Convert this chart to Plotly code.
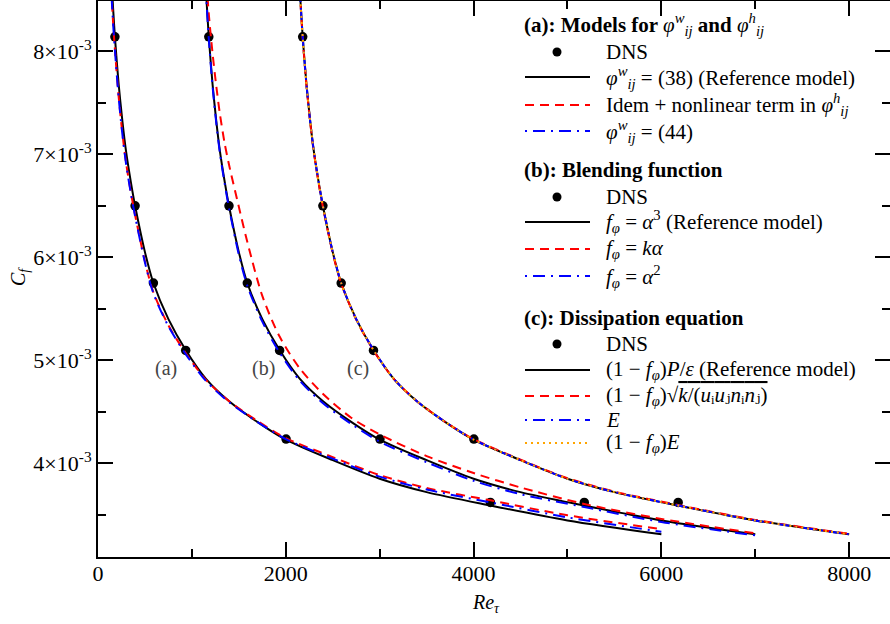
import numpy as np
import plotly.graph_objects as go

FONT = "'Liberation Serif', 'Times New Roman', 'DejaVu Serif', serif"

# ---------------- data (Cf values in units of 1e-3) ----------------
RE_DNS = [180, 395, 590, 934, 2003, 4179]
CF_DNS = [8.14, 6.50, 5.75, 5.095, 4.235, 3.62]

RE = [140, 160, 180, 220, 260, 300, 350, 395, 500, 590, 750, 934,
      1150, 1400, 1700, 2000, 2500, 3000, 3500, 4179, 5000, 6000]

# reference model (solid black, same in the three groups)
CF_REF = [8.75, 8.43, 8.14, 7.68, 7.32, 7.02, 6.73, 6.50, 6.05, 5.75, 5.40, 5.10,
          4.82, 4.60, 4.40, 4.23, 4.03, 3.85, 3.72, 3.59, 3.445, 3.31]
# (a) models for phi_w / phi_h
CF_A_NONLIN = [8.62, 8.29, 8.02, 7.56, 7.20, 6.91, 6.63, 6.41, 5.96, 5.66, 5.34, 5.07,
               4.81, 4.60, 4.41, 4.245, 4.06, 3.885, 3.76, 3.64, 3.495, 3.36]
CF_A_EQ44 = [8.60, 8.28, 8.01, 7.55, 7.19, 6.90, 6.62, 6.40, 5.95, 5.65, 5.33, 5.06,
             4.80, 4.59, 4.40, 4.235, 4.045, 3.87, 3.745, 3.62, 3.475, 3.335]
# (b) blending function
CF_B_KALPHA = [8.96, 8.62, 8.36, 7.98, 7.66, 7.38, 7.10, 6.90, 6.49, 6.15, 5.625, 5.23,
               4.92, 4.67, 4.44, 4.28, 4.07, 3.905, 3.765, 3.605, 3.46, 3.32]
CF_B_ALPHA2 = [8.73, 8.41, 8.12, 7.66, 7.30, 7.00, 6.71, 6.48, 6.025, 5.725, 5.375, 5.075,
               4.80, 4.58, 4.38, 4.21, 4.01, 3.83, 3.70, 3.575, 3.43, 3.30]
# (c) dissipation equation
CF_C_SQRT = [8.74, 8.42, 8.13, 7.67, 7.31, 7.01, 6.72, 6.49, 6.04, 5.745, 5.395, 5.095,
             4.82, 4.60, 4.40, 4.235, 4.035, 3.855, 3.725, 3.595, 3.45, 3.315]
CF_C_E = [8.75, 8.43, 8.14, 7.68, 7.32, 7.02, 6.73, 6.50, 6.05, 5.75, 5.40, 5.10,
          4.82, 4.60, 4.40, 4.23, 4.03, 3.85, 3.72, 3.59, 3.445, 3.31]
CF_C_1MFE = [8.75, 8.43, 8.14, 7.68, 7.32, 7.02, 6.73, 6.50, 6.05, 5.75, 5.40, 5.10,
             4.82, 4.60, 4.40, 4.23, 4.03, 3.85, 3.72, 3.59, 3.445, 3.31]

GROUP_SHIFT = {"a": 0, "b": 1000, "c": 2000}   # curves of each group are offset in Re_tau

X_TICKS = [0, 2000, 4000, 6000, 8000]
Y_TICKS = [4e-3, 5e-3, 6e-3, 7e-3, 8e-3]
Y_TICKTEXT = ["4×10<sup>-3</sup>", "5×10<sup>-3</sup>", "6×10<sup>-3</sup>",
              "7×10<sup>-3</sup>", "8×10<sup>-3</sup>"]

SCALE = 1e-3

# ---------------- styles ----------------
RED_DASH = "9px,6px"
BLUE_DASHDOT = "2px,6px,12px,6px"
ORANGE_DOT = "2px,4px"
STYLES = {
    "ref": dict(color="black", width=2, dash="solid"),
    "red": dict(color="#ff0000", width=2, dash=RED_DASH),
    "blue": dict(color="#0000ff", width=2, dash=BLUE_DASHDOT),
    "orange": dict(color="#ffa500", width=2, dash=ORANGE_DOT),
}

fig = go.Figure()


def add_dns(shift):
    fig.add_trace(go.Scatter(
        x=np.array(RE_DNS) + shift, y=np.array(CF_DNS) * SCALE, mode="markers",
        marker=dict(color="black", size=9.5), showlegend=False, hoverinfo="skip"))


def add_curve(cf, shift, style):
    fig.add_trace(go.Scatter(
        x=np.array(RE) + shift, y=np.array(cf) * SCALE, mode="lines",
        line=dict(shape="spline", smoothing=0.8, **STYLES[style]),
        showlegend=False, hoverinfo="skip"))


s = GROUP_SHIFT["a"]
add_dns(s)
add_curve(CF_REF, s, "ref")
add_curve(CF_A_NONLIN, s, "red")
add_curve(CF_A_EQ44, s, "blue")

s = GROUP_SHIFT["b"]
add_dns(s)
add_curve(CF_REF, s, "ref")
add_curve(CF_B_KALPHA, s, "red")
add_curve(CF_B_ALPHA2, s, "blue")

s = GROUP_SHIFT["c"]
add_dns(s)
add_curve(CF_REF, s, "ref")
add_curve(CF_C_SQRT, s, "red")
add_curve(CF_C_E, s, "blue")
add_curve(CF_C_1MFE, s, "orange")

# dummy trace so that the right-hand (tick-only) axis is drawn
fig.add_trace(go.Scatter(x=[None], y=[None], yaxis="y2", showlegend=False, hoverinfo="skip"))

# ---------------- layout ----------------
W, H = 890, 624
ML, MR, MT, MB = 98, 0, 1, 67
PW, PH = W - ML - MR, H - MT - MB
X_RANGE = [0, 8435]
Y_RANGE = [3.09e-3, 8.488e-3]


def px(xp):
    return (xp - ML) / PW


def py(yp):
    return 1 - (yp - MT) / PH


tickfont = dict(family=FONT, size=22, color="black")
yaxis_common = dict(range=Y_RANGE, tickmode="array", tickvals=Y_TICKS,
                    ticks="inside", ticklen=15, tickwidth=1.5, tickcolor="black",
                    minor=dict(ticks="inside", ticklen=8, tickwidth=1.5, tickcolor="black",
                               dtick=5e-4, tick0=0),
                    showgrid=False, zeroline=False, automargin=False)

fig.update_layout(
    width=W, height=H, margin=dict(l=ML, r=MR, t=MT, b=MB),
    paper_bgcolor="white", plot_bgcolor="white", showlegend=False,
    font=dict(family=FONT, size=21, color="black"),
    xaxis=dict(range=X_RANGE, tickmode="array", tickvals=X_TICKS,
               ticks="inside", ticklen=15, tickwidth=1.5, tickcolor="black",
               minor=dict(ticks="inside", ticklen=8, tickwidth=1.5, tickcolor="black",
                          dtick=1000, tick0=0),
               showline=True, linewidth=2, linecolor="black", mirror="ticks",
               showgrid=False, zeroline=False, tickfont=tickfont, automargin=False,
               ticklabelstandoff=-4),
    yaxis=dict(ticktext=Y_TICKTEXT, showline=True, linewidth=2, linecolor="black",
               mirror=False, tickfont=tickfont, **yaxis_common),
    yaxis2=dict(overlaying="y", side="right", showline=False, showticklabels=False,
                **yaxis_common),
)

annotations = []
shapes = []

# axis titles
annotations.append(dict(text="<i>Re</i><sub><i>τ</i></sub>", xref="paper", yref="paper",
                        x=px(486), y=py(603), showarrow=False, xanchor="center",
                        yanchor="middle", font=dict(size=20)))
annotations.append(dict(text="<i>C</i><sub><i>f</i></sub>", xref="paper", yref="paper",
                        x=px(19), y=py(277), showarrow=False, textangle=-90,
                        xanchor="center", yanchor="middle", font=dict(size=20)))

# group labels inside plot
for lab, xp in [("(a)", 166), ("(b)", 263), ("(c)", 358)]:
    annotations.append(dict(text=lab, xref="paper", yref="paper", x=px(xp), y=py(368),
                            showarrow=False, xanchor="center", yanchor="middle",
                            font=dict(size=20, color="#444444")))

# ---------------- hand-made legend ----------------
PHI_W = "<i>φ</i><sup><i>w</i></sup><sub><i>ij</i></sub>"
PHI_H = "<i>φ</i><sup><i>h</i></sup><sub><i>ij</i></sub>"
F_PHI = "<i>f</i><sub><i>φ</i></sub>"
LEGEND_ROWS = [
    ("header", "<b>(a): Models for </b>" + PHI_W + "<b> and </b>" + PHI_H, 25),
    ("dns", "DNS", 52),
    ("ref", PHI_W + " = (38) (Reference model)", 77),
    ("red", "Idem + nonlinear term in " + PHI_H, 105),
    ("blue", PHI_W + " = (44)", 131),
    ("header", "<b>(b): Blending function</b>", 170),
    ("dns", "DNS", 197),
    ("ref", F_PHI + " = <i>α</i><sup>3</sup> (Reference model)", 222),
    ("red", F_PHI + " = <i>kα</i>", 249),
    ("blue", F_PHI + " = <i>α</i><sup>2</sup>", 276),
    ("header", "<b>(c): Dissipation equation</b>", 318),
    ("dns", "DNS", 344),
    ("ref", "(1 − " + F_PHI + ")<i>P</i>/<i>ε</i> (Reference model)", 370),
    ("red", "(1 − " + F_PHI + ")√<span style='text-decoration:overline'><i>k</i>/("
            "<i>u</i>ᵢ<i>u</i>ⱼ<i>n</i>ᵢ<i>n</i>ⱼ)</span>", 396),
    ("blue", "<i>E</i>", 420),
    ("orange", "(1 − " + F_PHI + ")<i>E</i>", 443),
]

for kind, text, yp in LEGEND_ROWS:
    if kind == "header":
        annotations.append(dict(text=text, xref="paper", yref="paper", x=px(522), y=py(yp),
                                showarrow=False, xanchor="left", yanchor="middle",
                                font=dict(size=21)))
        continue
    annotations.append(dict(text=text, xref="paper", yref="paper", x=px(604), y=py(yp),
                            showarrow=False, xanchor="left", yanchor="middle",
                            font=dict(size=21)))
    if kind == "dns":
        shapes.append(dict(type="circle", xref="paper", yref="paper",
                           xsizemode="pixel", ysizemode="pixel",
                           xanchor=px(557), yanchor=py(yp),
                           x0=-4.5, x1=4.5, y0=-4.5, y1=4.5,
                           fillcolor="black", line=dict(width=0)))
    else:
        st = STYLES[kind]
        shapes.append(dict(type="line", xref="paper", yref="paper",
                           x0=px(525), x1=px(590), y0=py(yp), y1=py(yp),
                           line=dict(color=st["color"], width=st["width"], dash=st["dash"])))

fig.update_layout(annotations=annotations, shapes=shapes)

# remove the browser's default 8px page margin so the figure sits at the page origin
fig.write_html("out.html", config={"displayModeBar": False},
               post_script="document.body.style.margin='0px';")
